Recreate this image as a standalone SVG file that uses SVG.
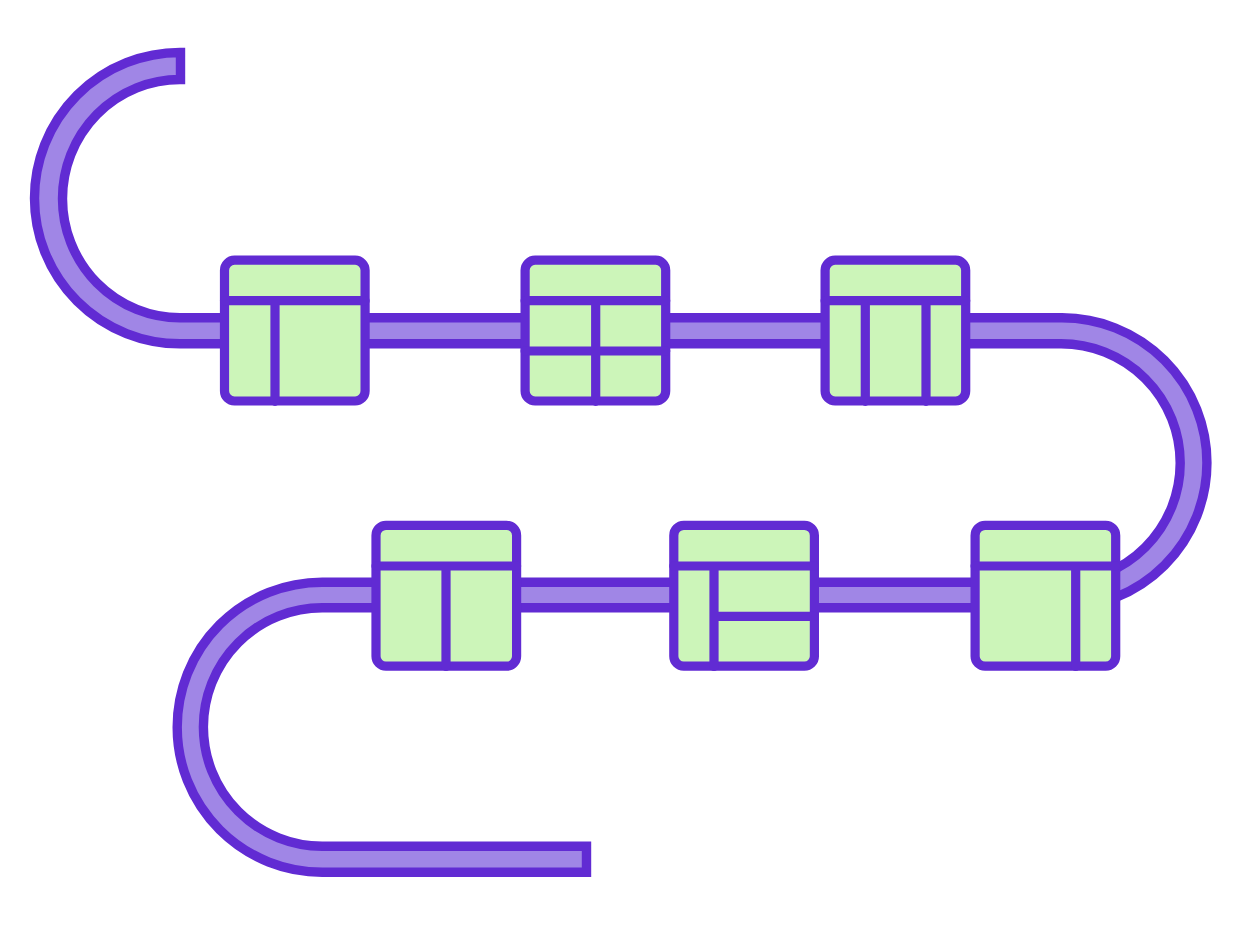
<svg xmlns="http://www.w3.org/2000/svg" width="1250" height="950" viewBox="0 0 1250 950">
<style>
.tube{fill:#a086e6;stroke:#612bd3;stroke-width:9.4;stroke-linejoin:miter}
.box{fill:#ccf5b9;stroke:#612bd3;stroke-width:9.2}
.ln{fill:none;stroke:#612bd3;stroke-width:9.2;stroke-linecap:round}
</style>
<rect width="1250" height="950" fill="#ffffff"/>
<g id="connectors">
<path class="tube" d="M180.500 52.500H180A145.500 145.650 0 0 0 180 343.800H1061A119.200 119.200 0 0 1 1061 582.200H322.200A145 145 0 0 0 322.200 872.200H586.500V846.200H322.200A118.800 119.200 0 0 1 322.200 607.800H1062A145 145 0 0 0 1062 317.800H180A117.500 119.150 0 0 1 180 79.500H180.500Z"/>
</g>
<g id="node-1"><rect class="box" x="224.500" y="260.200" width="140.600" height="140.800" rx="10"/><path class="ln" d="M224.500 300.700H365.100M275 300.700V401.300"/></g>
<g id="node-2"><rect class="box" x="525.100" y="260.200" width="140.600" height="140.800" rx="10"/><path class="ln" d="M525.100 300.700H665.700M525.100 351H665.700M595.700 300.700V401.300"/></g>
<g id="node-3"><rect class="box" x="825.100" y="260.200" width="140.600" height="140.800" rx="10"/><path class="ln" d="M825.100 300.700H965.700M865.300 300.700V401.300M926 300.700V401.300"/></g>
<g id="node-4"><rect class="box" x="376" y="525.400" width="140.600" height="140.800" rx="10"/><path class="ln" d="M376 566H516.600M446 566V666.500"/></g>
<g id="node-5"><rect class="box" x="673.800" y="525.400" width="140.600" height="140.800" rx="10"/><path class="ln" d="M673.800 566H814.400M714 566V666.500M714 616.300H814.400"/></g>
<g id="node-6"><rect class="box" x="975.100" y="525.400" width="140.600" height="140.800" rx="10"/><path class="ln" d="M975.100 566H1115.700M1075.700 566V666.500"/></g>
</svg>
